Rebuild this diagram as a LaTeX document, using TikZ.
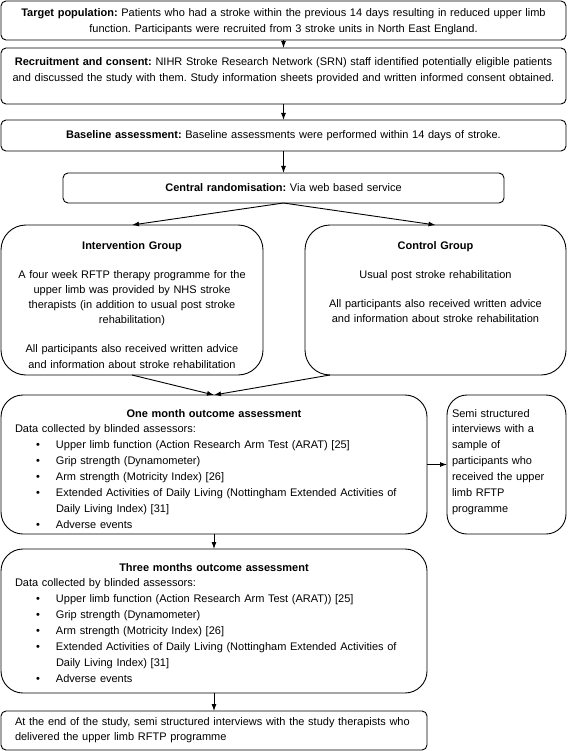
\documentclass[tikz,border=0pt]{standalone}
\usepackage{fontspec}
\setmainfont{Liberation Sans}
\usepackage{tikz}
\usetikzlibrary{arrows.meta}
\frenchspacing

\newcommand{\blt}{\hspace*{21pt}\makebox[20pt][l]{\textbullet}}
\newcommand{\bltcont}{\hspace*{41pt}}

\tikzset{
  box/.style={draw=black, line width=0.9pt, rounded corners=5pt, anchor=north west,
    inner ysep=0pt, outer sep=0pt, font=\fontsize{11}{15.3}\selectfont},
  listbox/.style={box, rounded corners=22pt, align=left, inner xsep=14pt,
    font=\fontsize{11}{15.9}\selectfont},
  arr/.style={draw=black, line width=0.9pt, -{Latex[length=7pt,width=5pt]}}
}

\begin{document}
\begin{tikzpicture}[x=1pt, y=-1pt]
  \useasboundingbox (0,0) rectangle (568,751);
  % top of the flow
  \node[box, align=center, inner xsep=10pt, text width=545pt, text height=16pt, text depth=23pt]
    (target) at (1,1) {\textbf{Target population:} Patients who had a stroke within the previous 14 days resulting in reduced upper limb\\
    function. Participants were recruited from 3 stroke units in North East England.};
  \node[box, align=center, inner xsep=8pt, text width=549pt, text height=18pt, text depth=38pt]
    (recruit) at (1,48) {\textbf{Recruitment and consent:} NIHR Stroke Research Network (SRN) staff identified potentially eligible patients\\
    and discussed the study with them. Study information sheets provided and written informed consent obtained.};
  \node[box, align=center, inner xsep=10pt, text width=545pt, text height=19pt, text depth=12pt]
    (base) at (1,120) {\textbf{Baseline assessment:} Baseline assessments were performed within 14 days of stroke.};
  \node[box, align=center, inner xsep=10pt, text width=421pt, text height=19pt, text depth=11pt]
    (rand) at (63,173) {\textbf{Central randomisation:} Via web based service};
  % the two arms
  \node[box, rounded corners=25pt, align=center, inner xsep=6pt, text width=250pt, text height=24pt, text depth=126pt]
    (inter) at (1,225) {\textbf{Intervention Group}\\[13.7pt]
    A four week RFTP therapy programme for the\\ upper limb was provided by NHS stroke\\
    therapists (in addition to usual post stroke\\ rehabilitation)\\[13.7pt]
    All participants also received written advice\\ and information about stroke rehabilitation};
  \node[box, rounded corners=25pt, align=center, inner xsep=6pt, text width=249pt, text height=24pt, text depth=126pt]
    (control) at (305,225) {\textbf{Control Group}\\[13.7pt]
    Usual post stroke rehabilitation\\[13.7pt]
    All participants also received written advice\\ and information about stroke rehabilitation};
  % outcome assessments
  \node[listbox, text width=398pt, text height=22pt, text depth=117pt]
    (onemonth) at (1,395) {\centerline{\textbf{One month outcome assessment}}
    Data collected by blinded assessors:\\
    \blt Upper limb function (Action Research Arm Test (ARAT) [25]\\
    \blt Grip strength (Dynamometer)\\
    \blt Arm strength (Motricity Index) [26]\\
    \blt Extended Activities of Daily Living (Nottingham Extended Activities of\\
    \bltcont Daily Living Index) [31]\\
    \blt Adverse events};
  \node[listbox, rounded corners=20pt, inner xsep=5pt, text width=109pt, text height=22pt, text depth=117pt]
    (semi) at (447,395) {Semi structured\\ interviews with a\\ sample of\\ participants who\\
    received the upper\\ limb RFTP\\ programme};
  \node[listbox, text width=398pt, text height=22pt, text depth=122pt]
    (three) at (1,549) {\centerline{\textbf{Three months outcome assessment}}
    Data collected by blinded assessors:\\
    \blt Upper limb function (Action Research Arm Test (ARAT)) [25]\\
    \blt Grip strength (Dynamometer)\\
    \blt Arm strength (Motricity Index) [26]\\
    \blt Extended Activities of Daily Living (Nottingham Extended Activities of\\
    \bltcont Daily Living Index) [31]\\
    \blt Adverse events};
  \node[box, align=left, inner xsep=14pt, text width=398pt, text height=14pt, text depth=25pt]
    (final) at (1,711) {At the end of the study, semi structured interviews with the study therapists who\\
    delivered the upper limb RFTP programme};
  % connectors
  \foreach \a/\b in {target/recruit, recruit/base, base/rand, onemonth/three, three/final}
    \draw[arr] (\a.south) -- (\b.north);
  \draw[arr] (rand.south) -- (inter.north);
  \draw[arr] (rand.south) -- (control.north);
  \draw[arr] (inter.south) -- (onemonth.north);
  \draw[arr] ([xshift=25pt]control.south west) -- (onemonth.north);
  \draw[arr] (onemonth.east) -- (semi.west);
\end{tikzpicture}
\end{document}
